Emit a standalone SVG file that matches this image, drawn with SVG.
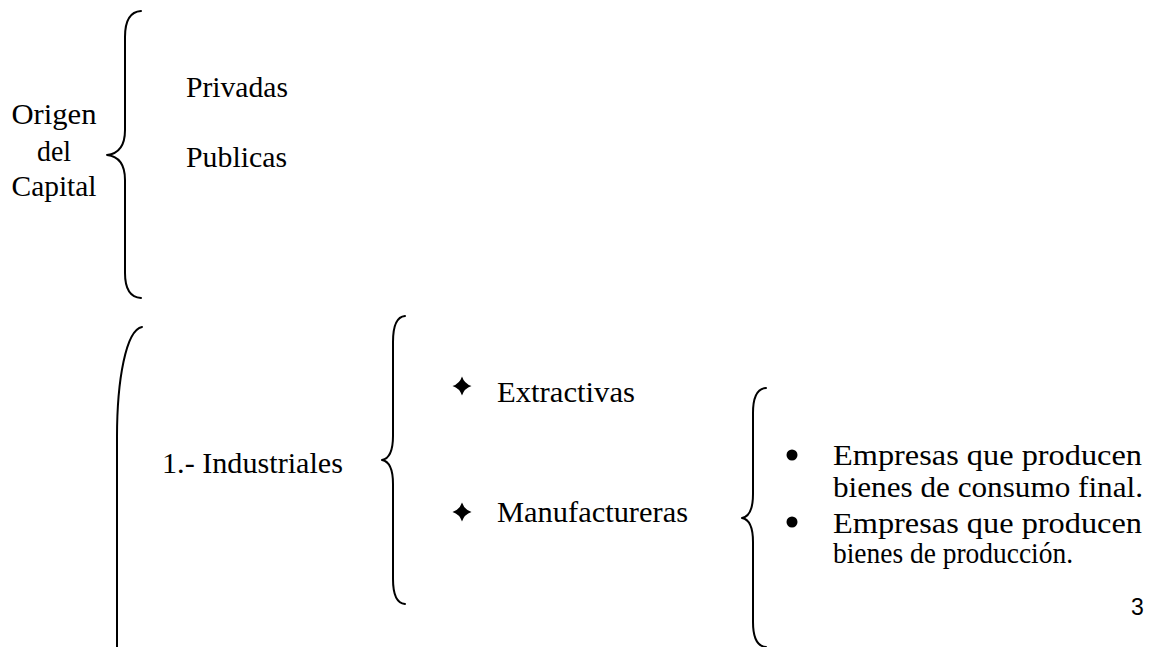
<svg xmlns="http://www.w3.org/2000/svg" width="1152" height="647" viewBox="0 0 1152 647">
<style>
.t{font-family:"Liberation Serif","Times New Roman",serif;font-size:29px;fill:#000}
.n{font-family:"Liberation Sans",Arial,sans-serif;font-size:23px;fill:#000}
.br{fill:none;stroke:#000;stroke-width:2;stroke-linecap:round;stroke-linejoin:round}
</style>
<defs>
<path id="star" d="M0,-9.5 Q2.3,-2.3 9.5,0 Q2.3,2.3 0,9.5 Q-2.3,2.3 -9.5,0 Q-2.3,-2.3 0,-9.5Z" fill="#000"/>
</defs>
<rect width="1152" height="647" fill="#fff"/>
<g id="connectors">
<path class="br" d="M141,11 Q125,12 125,37 L125,130 Q125,153 107,155 Q125,157 125,180 L125,273 Q125,297 141,298"/>
<path class="br" d="M142,327 C126,330 117,380 117,437 L117,648"/>
<path class="br" d="M405,316 Q393,317 393,342 L393,436 Q393,458 382,460 Q393,462 393,484 L393,579 Q393,603 405,604"/>
<path class="br" d="M766,388 Q753,389 753,413 L753,494 Q753,516 742,518 Q753,520 753,542 L753,622 Q753,646 766,647"/>
</g>
<g id="origen">
<text class="t" x="54" y="124" text-anchor="middle" textLength="85" lengthAdjust="spacingAndGlyphs">Origen</text>
<text class="t" x="54" y="161" text-anchor="middle" textLength="34" lengthAdjust="spacingAndGlyphs">del</text>
<text class="t" x="54" y="196" text-anchor="middle" textLength="85" lengthAdjust="spacingAndGlyphs">Capital</text>
</g>
<g id="privadas"><text class="t" x="186" y="97" textLength="102" lengthAdjust="spacingAndGlyphs">Privadas</text></g>
<g id="publicas"><text class="t" x="186" y="167" textLength="101" lengthAdjust="spacingAndGlyphs">Publicas</text></g>
<g id="industriales"><text class="t" x="162" y="473" textLength="181" lengthAdjust="spacingAndGlyphs">1.- Industriales</text></g>
<g id="extractivas">
<use href="#star" x="462" y="386"/>
<text class="t" x="497" y="402" textLength="138" lengthAdjust="spacingAndGlyphs">Extractivas</text>
</g>
<g id="manufactureras">
<use href="#star" x="462" y="512"/>
<text class="t" x="497" y="522" textLength="191" lengthAdjust="spacingAndGlyphs">Manufactureras</text>
</g>
<g id="consumo">
<circle cx="792" cy="455" r="5.5"/>
<text class="t" x="833" y="465" textLength="309" lengthAdjust="spacingAndGlyphs">Empresas que producen</text>
<text class="t" x="833" y="497" textLength="310" lengthAdjust="spacingAndGlyphs">bienes de consumo final.</text>
</g>
<g id="produccion">
<circle cx="792" cy="522" r="5.5"/>
<text class="t" x="833" y="533" textLength="309" lengthAdjust="spacingAndGlyphs">Empresas que producen</text>
<text class="t" x="833" y="563" textLength="240" lengthAdjust="spacingAndGlyphs">bienes de producción.</text>
</g>
<g id="page"><text class="n" x="1131" y="615">3</text></g>
</svg>
